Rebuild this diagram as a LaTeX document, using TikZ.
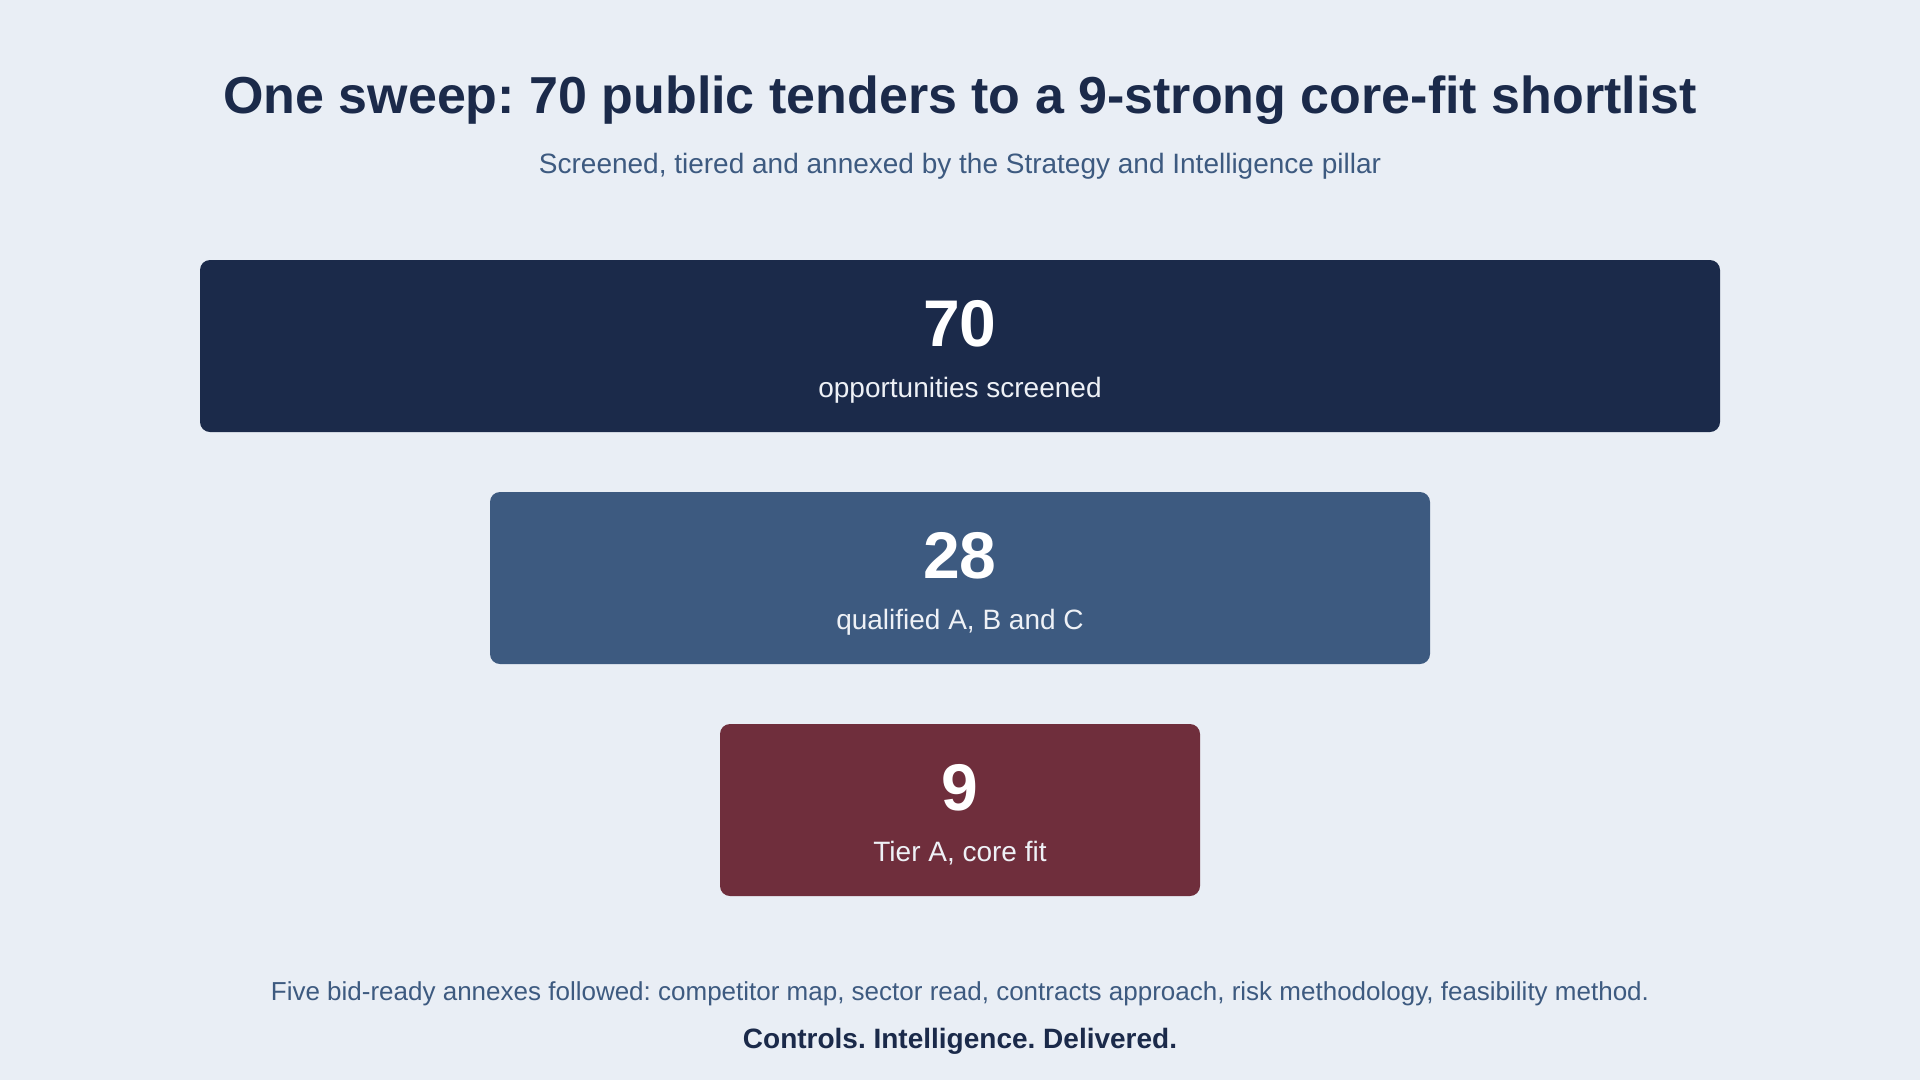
\documentclass[tikz,border=0pt]{standalone}
\usepackage{fontspec}
\setmainfont{Liberation Sans}
\frenchspacing
\definecolor{bgpale}{HTML}{E9EEF5}
\definecolor{navy}{HTML}{1B2A4A}
\definecolor{steel}{HTML}{3D5A80}
\definecolor{wine}{HTML}{6F2E3C}
\definecolor{labelwhite}{HTML}{EEF1F6}
\begin{document}
\begin{tikzpicture}[x=1pt,y=-1pt,
  tier/.style={rounded corners=10pt,minimum height=172pt,inner sep=0pt},
  bignum/.style={anchor=base,text=white,font=\bfseries\fontsize{66}{70}\selectfont},
  tierlabel/.style={anchor=base,text=labelwhite,font=\fontsize{28}{32}\selectfont}]
  \fill[bgpale] (0,0) rectangle (1920,1080);
  \node[anchor=base,text=navy,font=\bfseries\fontsize{52}{56}\selectfont] (title) at (960,113)
    {One sweep: 70 public tenders to a 9-strong core-fit shortlist};
  \node[anchor=base,text=steel,font=\fontsize{28}{31}\selectfont] (subtitle) at (960,173)
    {Screened, tiered and annexed by the Strategy and Intelligence pillar};
  % funnel tiers, top to bottom
  \foreach \i/\w/\c/\num/\lab in {0/1520/navy/70/{opportunities screened},
                                  1/940/steel/28/{qualified A, B and C},
                                  2/480/wine/9/{Tier A, core fit}} {
    \pgfmathsetmacro\yc{346 + 232 * \i}
    \node[tier,fill=\c,minimum width=\w pt] (box\i) at (960,\yc) {};
    \node[bignum] (num\i) at (960,\yc) {\num};
    \node[tierlabel] (lab\i) at (960,\yc + 51) {\lab};
  }
  \node[anchor=base,text=steel,font=\fontsize{26}{30}\selectfont] (annexes) at (960,1000)
    {Five bid-ready annexes followed: competitor map, sector read, contracts approach, risk methodology, feasibility method.};
  \node[anchor=base,text=navy,font=\bfseries\fontsize{28}{32}\selectfont] (tagline) at (960,1048)
    {Controls. Intelligence. Delivered.};
\end{tikzpicture}
\end{document}
